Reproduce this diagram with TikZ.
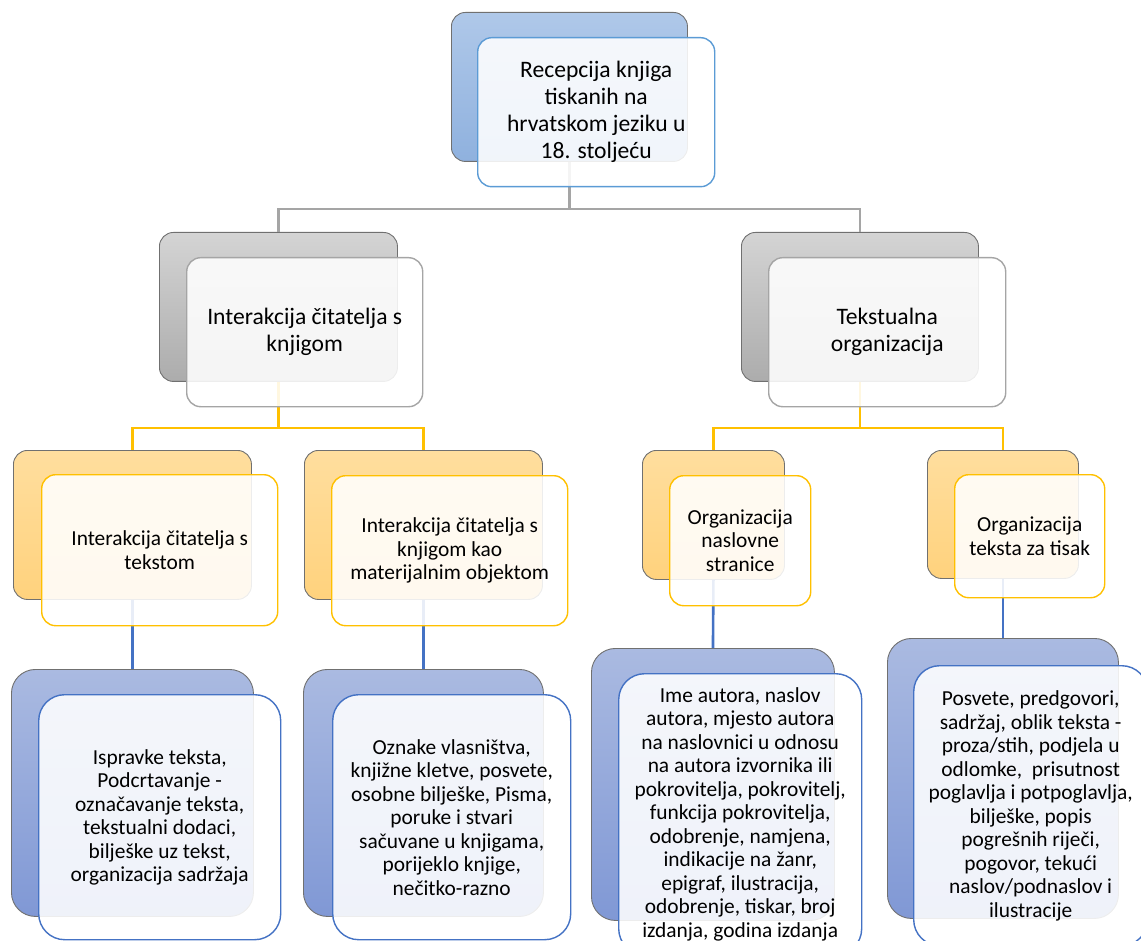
\documentclass[tikz,border=0pt]{standalone}
\usepackage{fontspec}
\setmainfont{Carlito}
\definecolor{backline}{RGB}{112,112,112}
\definecolor{rootline}{RGB}{91,155,213}
\definecolor{greyline}{RGB}{165,165,165}
\definecolor{yelline}{RGB}{255,192,0}
\definecolor{blueline}{RGB}{68,114,196}
\begin{document}
\begin{tikzpicture}[x=1pt,y=-1pt,
    back/.style={draw=backline, line width=0.9pt, rounded corners=14pt, anchor=north west, inner sep=0pt},
    front/.style={fill=white, fill opacity=0.88, text opacity=1, line width=1.4pt, rounded corners=14pt,
      anchor=north west, inner sep=0pt, align=center},
    big/.style={font=\fontsize{23.6}{27}\selectfont},
    small/.style={font=\fontsize{21.4}{23.5}\selectfont},
    link/.style={line width=2.6pt}]
    \useasboundingbox (0,0) rectangle (1141,941);
    % back boxes
    \node[back, top color={rgb,255:red,175;green,200;blue,233}, bottom color={rgb,255:red,143;green,177;blue,222},
      minimum width=236pt, minimum height=149pt] (root-b) at (451,12) {};
    \node[back, top color={rgb,255:red,212;green,212;blue,212}, bottom color={rgb,255:red,172;green,172;blue,172},
      minimum width=238pt, minimum height=149pt] (kn-b) at (159,232) {};
    \node[back, top color={rgb,255:red,212;green,212;blue,212}, bottom color={rgb,255:red,172;green,172;blue,172},
      minimum width=237pt, minimum height=149pt] (to-b) at (741,232) {};
    \node[back, top color={rgb,255:red,255;green,222;blue,158}, bottom color={rgb,255:red,255;green,210;blue,125},
      minimum width=238pt, minimum height=149pt] (it-b) at (13,450) {};
    \node[back, top color={rgb,255:red,255;green,222;blue,158}, bottom color={rgb,255:red,255;green,210;blue,125},
      minimum width=238pt, minimum height=149pt] (im-b) at (304,450) {};
    \node[back, top color={rgb,255:red,255;green,222;blue,158}, bottom color={rgb,255:red,255;green,210;blue,125},
      minimum width=142pt, minimum height=129pt] (ns-b) at (642,450) {};
    \node[back, top color={rgb,255:red,255;green,222;blue,158}, bottom color={rgb,255:red,255;green,210;blue,125},
      minimum width=151pt, minimum height=128pt] (ot-b) at (927,450) {};
    \node[back, rounded corners=24pt, top color={rgb,255:red,170;green,186;blue,225}, bottom color={rgb,255:red,128;green,152;blue,213},
      minimum width=242pt, minimum height=247pt] (isp-b) at (11,669) {};
    \node[back, rounded corners=24pt, top color={rgb,255:red,170;green,186;blue,225}, bottom color={rgb,255:red,128;green,152;blue,213},
      minimum width=240pt, minimum height=247pt] (ozn-b) at (303,669) {};
    \node[back, rounded corners=24pt, top color={rgb,255:red,170;green,186;blue,225}, bottom color={rgb,255:red,128;green,152;blue,213},
      minimum width=243pt, minimum height=272pt] (ime-b) at (591,648) {};
    \node[back, rounded corners=24pt, top color={rgb,255:red,170;green,186;blue,225}, bottom color={rgb,255:red,128;green,152;blue,213},
      minimum width=231pt, minimum height=280pt] (pos-b) at (887,638) {};
    % connectors
    \draw[link, greyline] (root-b.south) -- ++(0,47) -| (kn-b.north);
    \draw[link, greyline] (root-b.south) -- ++(0,47) -| (to-b.north);
    \draw[link, yelline] (kn-b.south) -- ++(0,46) -| (it-b.north);
    \draw[link, yelline] (kn-b.south) -- ++(0,46) -| (im-b.north);
    \draw[link, yelline] (to-b.south) -- ++(0,46) -| (ns-b.north);
    \draw[link, yelline] (to-b.south) -- ++(0,46) -| (ot-b.north);
    \draw[link, blueline] (it-b.south) -- (isp-b.north);
    \draw[link, blueline] (im-b.south) -- (ozn-b.north);
    \draw[link, blueline] (ns-b.south) -- (ime-b.north);
    \draw[link, blueline] (ot-b.south) -- (pos-b.north);
    % front boxes
    \node[front, big, draw=rootline, minimum width=237pt, minimum height=149pt] (root) at (477,37)
      {Recepcija knjiga\\tiskanih na\\hrvatskom jeziku u\\18. stoljeću};
    \node[front, big, draw=greyline, minimum width=236pt, minimum height=149pt] (kn) at (186,257)
      {Interakcija čitatelja s\\knjigom};
    \node[front, big, draw=greyline, minimum width=237pt, minimum height=149pt] (to) at (768,257)
      {Tekstualna\\organizacija};
    \node[front, small, draw=yelline, minimum width=236pt, minimum height=151pt] (it) at (41,474)
      {Interakcija čitatelja s\\tekstom};
    \node[front, small, draw=yelline, minimum width=236pt, minimum height=150pt] (im) at (331,475)
      {Interakcija čitatelja s\\knjigom kao\\materijalnim objektom};
    \node[front, small, draw=yelline, minimum width=141pt, minimum height=130pt] (ns) at (669,475)
      {Organizacija\\naslovne\\stranice};
    \node[front, small, draw=yelline, minimum width=150pt, minimum height=123pt] (ot) at (954,474)
      {Organizacija\\teksta za tisak};
    \node[front, small, draw=blueline, rounded corners=26pt, minimum width=242pt, minimum height=245pt] (isp) at (38,694)
      {Ispravke teksta,\\Podcrtavanje -\\označavanje teksta,\\tekstualni dodaci,\\bilješke uz tekst,\\organizacija sadržaja};
    \node[front, small, draw=blueline, rounded corners=26pt, minimum width=238pt, minimum height=245pt] (ozn) at (332,694)
      {Oznake vlasništva,\\knjižne kletve, posvete,\\osobne bilješke, Pisma,\\poruke i stvari\\sačuvane u knjigama,\\porijeklo knjige,\\nečitko-razno};
    \node[front, small, draw=blueline, rounded corners=26pt, minimum width=243pt, minimum height=281pt] (ime) at (618,673)
      {Ime autora, naslov\\autora, mjesto autora\\na naslovnici u odnosu\\na autora izvornika ili\\pokrovitelja, pokrovitelj,\\funkcija pokrovitelja,\\odobrenje, namjena,\\indikacije na žanr,\\epigraf, ilustracija,\\odobrenje, tiskar, broj\\izdanja, godina izdanja};
    \node[front, small, draw=blueline, rounded corners=26pt, minimum width=234pt, minimum height=280pt] (pos) at (913,665)
      {Posvete, predgovori,\\sadržaj, oblik teksta -\\proza/stih, podjela u\\odlomke,\ \ prisutnost\\poglavlja i potpoglavlja,\\bilješke, popis\\pogrešnih riječi,\\pogovor, tekući\\naslov/podnaslov i\\ilustracije};
\end{tikzpicture}
\end{document}
